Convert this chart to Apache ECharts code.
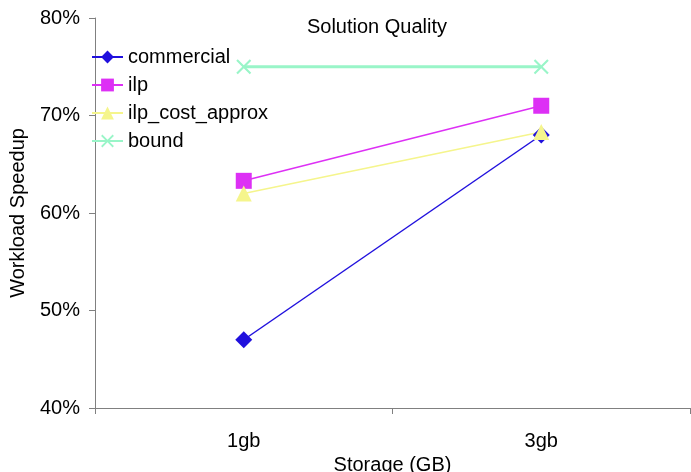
<!DOCTYPE html>
<html>
<head>
<meta charset="utf-8">
<script src="https://cdn.jsdelivr.net/npm/echarts@6/dist/echarts.min.js"></script>
<style>
  html, body { margin: 0; padding: 0; background: #ffffff; }
  #chart { width: 691px; height: 472px; }
</style>
</head>
<body>
<div id="chart"></div>
<script>
// Storage budgets on the x axis
const categories = ['1gb', '3gb'];
// Workload speedup (%) per tuning method
const commercial = [47, 68];
const ilp = [63.3, 71];
const ilpCostApprox = [62, 68.3];
const bound = [75, 75];
// Y axis range and step (%)
const yMin = 40, yMax = 80, yStep = 10;

const FONT = 'Liberation Sans, Arial, sans-serif';
const FS = 20;
const crossPath = 'path://M0,1L1,0L5,4L9,0L10,1L6,5L10,9L9,10L5,6L1,10L0,9L4,5Z';

function lineSeries(name, data, color, symbol, size, width) {
  return {
    name: name,
    type: 'line',
    data: data,
    symbol: symbol,
    symbolSize: size,
    showAllSymbol: true,
    lineStyle: { color: color, width: width },
    itemStyle: { color: color },
    emphasis: { disabled: true },
    animation: false
  };
}

const chart = echarts.init(document.getElementById('chart'), null, { renderer: 'canvas' });
chart.setOption({
  backgroundColor: '#ffffff',
  title: {
    text: 'Solution Quality',
    left: 377, top: 17, textAlign: 'center', padding: 0,
    textStyle: { fontFamily: FONT, fontSize: FS, fontWeight: 'normal', color: '#000' }
  },
  legend: {
    orient: 'vertical',
    left: 91, top: 47, padding: 0,
    itemWidth: 31, itemHeight: 16,
    itemGap: 8,
    textStyle: { fontFamily: FONT, fontSize: FS, color: '#000', lineHeight: 16 },
    data: ['commercial', 'ilp', 'ilp_cost_approx', 'bound']
  },
  grid: { left: 95, right: 1, top: 18, bottom: 64, containLabel: false, outerBoundsMode: 'none' },
  xAxis: {
    type: 'category',
    data: categories,
    boundaryGap: true,
    name: 'Storage (GB)',
    nameLocation: 'middle',
    nameGap: 44,
    nameTextStyle: { fontFamily: FONT, fontSize: FS, color: '#000' },
    axisLine: { lineStyle: { color: '#808080', width: 1 } },
    axisTick: { show: true, length: 6, lineStyle: { color: '#808080' } },
    axisLabel: { fontFamily: FONT, fontSize: FS, color: '#000', margin: 23 },
    splitLine: { show: false }
  },
  yAxis: {
    type: 'value',
    min: yMin, max: yMax, interval: yStep,
    name: 'Workload Speedup',
    nameLocation: 'middle',
    nameGap: 67,
    nameTextStyle: { fontFamily: FONT, fontSize: FS, color: '#000' },
    axisLine: { show: true, lineStyle: { color: '#808080', width: 1 } },
    axisTick: { show: true, length: 6, lineStyle: { color: '#808080' } },
    axisLabel: { fontFamily: FONT, fontSize: FS, color: '#000', margin: 15, formatter: '{value}%' },
    splitLine: { show: false }
  },
  series: [
    lineSeries('commercial', commercial, '#2010DD', 'diamond', 17, 1.5),
    lineSeries('ilp', ilp, '#DD30F5', 'rect', 16, 1.5),
    lineSeries('ilp_cost_approx', ilpCostApprox, '#F5F58C', 'triangle', 16, 1.5),
    lineSeries('bound', bound, '#99F5C8', crossPath, 15, 3)
  ]
});
</script>
</body>
</html>
